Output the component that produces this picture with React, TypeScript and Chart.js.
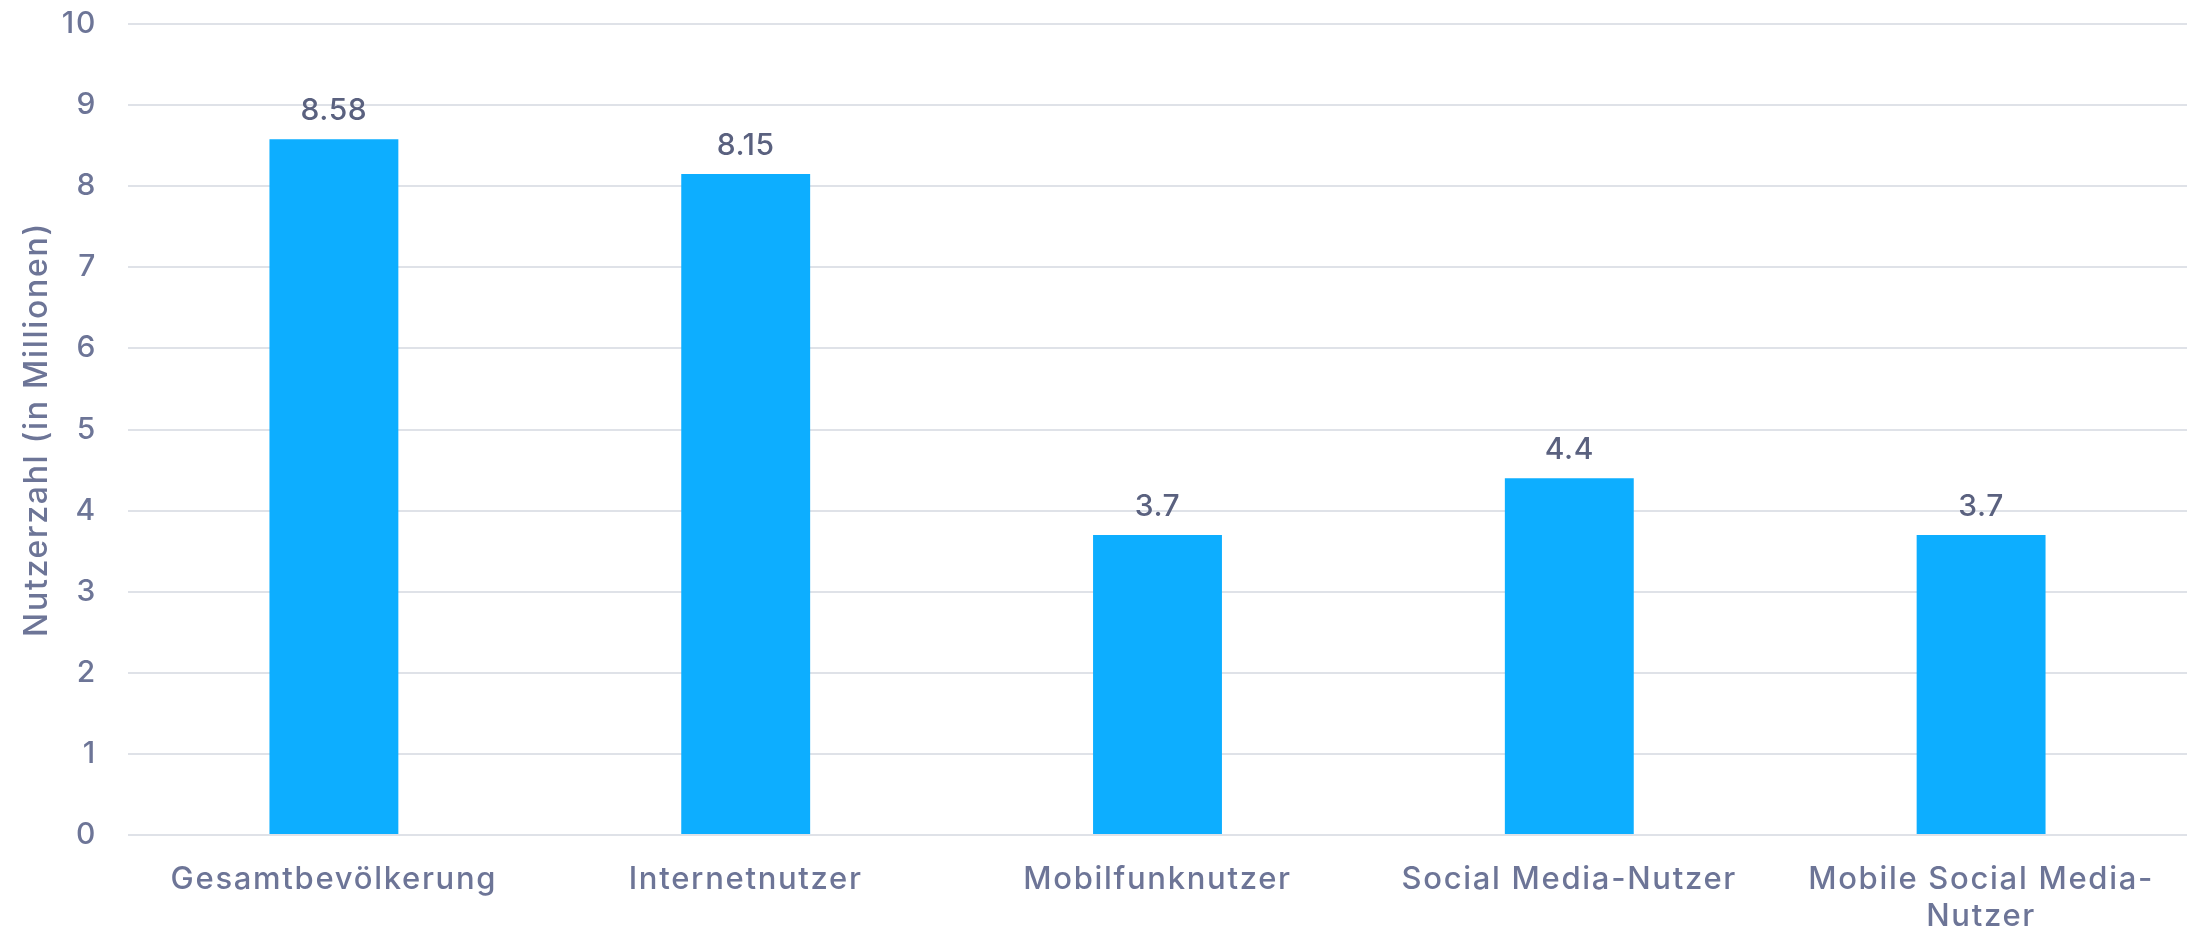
import React, { useEffect, useRef } from "react";
import { Chart, registerables } from "chart.js";

Chart.register(...registerables);

const categories: (string | string[])[] = [
  "Gesamtbevölkerung",
  "Internetnutzer",
  "Mobilfunknutzer",
  "Social Media-Nutzer",
  ["Mobile Social Media-", "Nutzer"],
];
const values: number[] = [8.58, 8.15, 3.7, 4.4, 3.7];
const valueLabels: string[] = ["8.58", "8.15", "3.7", "4.4", "3.7"];
const yTitle = "Nutzerzahl (in Millionen)";

const FONT = "Inter, 'DejaVu Sans', sans-serif";
const TICK_COLOR = "#6d7597";
const VALUE_COLOR = "#5a617f";
const BAR_COLOR = "#0daeff";
const GRID_COLOR = "#dfe2e8";

const spacingPlugin = {
  id: "spacing",
  beforeDraw(chart: any) {
    chart.ctx.letterSpacing = "1.7px";
  },
};

const valueLabelPlugin = {
  id: "valueLabels",
  afterDatasetsDraw(chart: any) {
    const ctx = chart.ctx;
    const meta = chart.getDatasetMeta(0);
    ctx.save();
    ctx.letterSpacing = "0.6px";
    ctx.font = `500 30px ${FONT}`;
    ctx.fillStyle = VALUE_COLOR;
    ctx.textAlign = "center";
    ctx.textBaseline = "alphabetic";
    meta.data.forEach((bar: any, i: number) => {
      ctx.fillText(valueLabels[i], bar.x, bar.y - 19);
    });
    ctx.restore();
  },
};

export default function App() {
  const ref = useRef<HTMLCanvasElement | null>(null);
  useEffect(() => {
    if (!ref.current) return;
    const chart = new Chart(ref.current, {
      type: "bar",
      data: {
        labels: categories,
        datasets: [
          {
            data: values,
            backgroundColor: BAR_COLOR,
            borderWidth: 0,
            barPercentage: 1,
            categoryPercentage: 0.313,
          },
        ],
      },
      options: {
        animation: false,
        responsive: true,
        maintainAspectRatio: false,
        layout: { padding: { top: 24, right: 3, left: 0, bottom: 0 } },
        plugins: {
          legend: { display: false },
          tooltip: { enabled: false },
        },
        scales: {
          x: {
            grid: { display: false },
            border: { display: false },
            ticks: {
              color: TICK_COLOR,
              font: { family: FONT, size: 31, weight: 500, lineHeight: 1.2 },
              padding: 18,
              maxRotation: 0,
              autoSkip: false,
            },
            afterFit(scale: any) {
              scale.height = 93;
            },
          },
          y: {
            min: 0,
            max: 10,
            grid: { color: GRID_COLOR, lineWidth: 2, drawTicks: false },
            border: { display: false },
            ticks: {
              stepSize: 1,
              color: TICK_COLOR,
              font: { family: FONT, size: 30, weight: 500 },
              padding: 31,
            },
            title: {
              display: true,
              text: yTitle,
              color: TICK_COLOR,
              font: { family: FONT, size: 32, weight: 500, lineHeight: 1.2 },
              padding: { top: 18, bottom: 0 },
            },
            afterFit(scale: any) {
              scale.width = 128;
              scale.paddingTop = 0;
              scale.paddingBottom = 0;
            },
          },
        },
      },
      plugins: [spacingPlugin, valueLabelPlugin],
    });
    return () => chart.destroy();
  }, []);
  return (
    <div style={{ position: "absolute", left: 0, top: 0, width: 2190, height: 928 }}>
      <canvas ref={ref} />
    </div>
  );
}
